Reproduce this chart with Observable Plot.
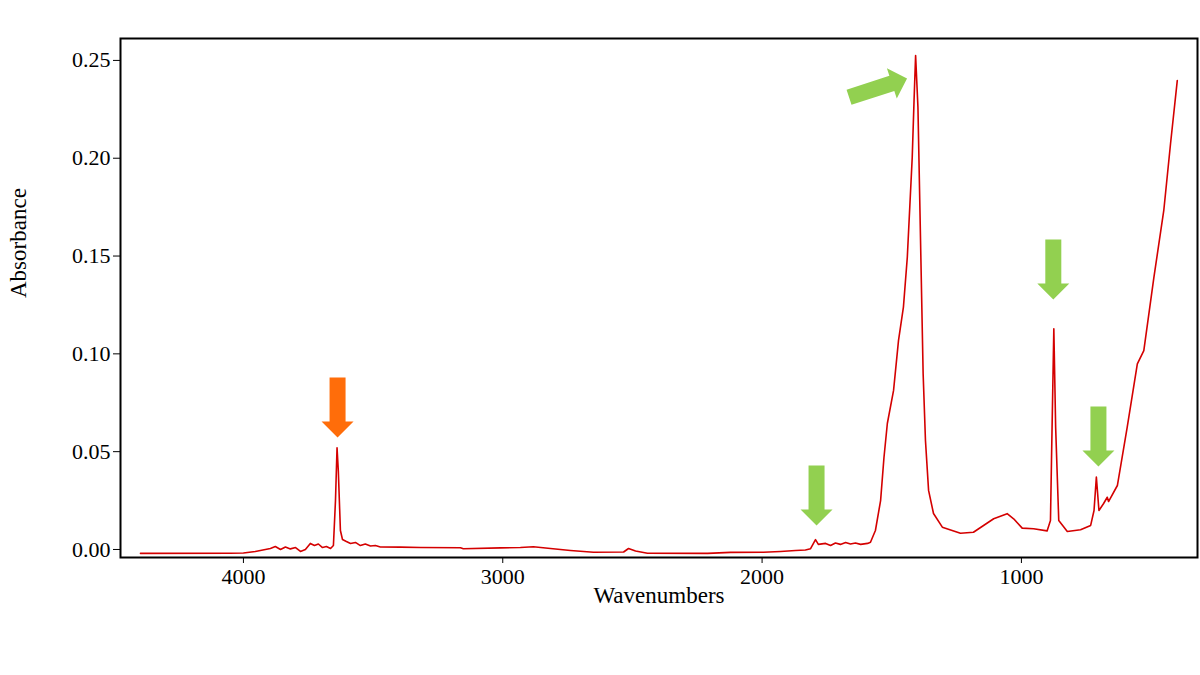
<!DOCTYPE html>
<html><head><meta charset="utf-8">
<script src="https://cdn.jsdelivr.net/npm/d3@7"></script>
<script src="https://cdn.jsdelivr.net/npm/@observablehq/plot@0.6"></script>
<style>
  html,body{margin:0;padding:0;background:#fff;}
  #chart svg{display:block;}
</style>
</head><body><div id="chart"></div>
<script>
// Spectrum (cm^-1, absorbance)
const wavenumber = [4397,4050,4000,3954,3896,3877,3857,3838,3819,3799,3780,3761,3742,3726,3711,3695,3680,3664,3653,3645,3639,3634,3626,3618,3603,3587,3568,3549,3530,3510,3491,3472,3395,3317,3163,3152,3009,2932,2882,2816,2739,2650,2534,2515,2488,2442,2210,2122,1995,1929,1871,1833,1813,1794,1783,1755,1736,1717,1698,1678,1659,1640,1620,1593,1582,1563,1543,1530,1517,1493,1474,1455,1440,1421,1414,1408,1399,1389,1379,1370,1358,1339,1305,1235,1185,1107,1055,1030,997,953,901,888,884,875,868,856,823,772,733,720,711,701,683,669,664,630,592,553,528,489,451,425,399];
const absorbance = [-0.0020,-0.0019,-0.0018,-0.0010,0.0005,0.0015,0.0000,0.0013,0.0003,0.0010,-0.0010,0.0000,0.0031,0.0020,0.0028,0.0010,0.0015,0.0005,0.0020,0.0250,0.0520,0.0400,0.0097,0.0051,0.0041,0.0031,0.0036,0.0020,0.0028,0.0018,0.0020,0.0013,0.0012,0.0010,0.0009,0.0004,0.0008,0.0010,0.0014,0.0005,-0.0005,-0.0014,-0.0013,0.0005,-0.0008,-0.0019,-0.0020,-0.0015,-0.0014,-0.0010,-0.0005,-0.0003,0.0004,0.0050,0.0026,0.0031,0.0020,0.0033,0.0026,0.0036,0.0028,0.0033,0.0026,0.0031,0.0037,0.0097,0.0250,0.0470,0.0644,0.0813,0.1068,0.1239,0.1494,0.2005,0.2295,0.2525,0.2261,0.1580,0.0900,0.0557,0.0302,0.0184,0.0114,0.0083,0.0088,0.0157,0.0183,0.0157,0.0109,0.0106,0.0095,0.0148,0.0455,0.1128,0.0625,0.0148,0.0092,0.0101,0.0123,0.0199,0.0370,0.0199,0.0235,0.0267,0.0245,0.0327,0.0625,0.0949,0.1017,0.1392,0.1733,0.2074,0.2397];

// Axis ticks
const xTicks = [4000, 3000, 2000, 1000];
const yTicks = [0, 0.05, 0.10, 0.15, 0.20, 0.25];

// Annotated bands: wavenumber of arrow tip, absorbance of arrow tip, group
const bandWave  = [3637, 1790, 877, 703];
const bandTip   = [0.0573, 0.0123, 0.1278, 0.0424];
const bandGroup = ["hydroxide", "carbonate", "carbonate", "carbonate"];
// Main carbonate band (slanted arrow)
const mainWave = [1441];
const mainTip  = [0.2408];

const spectrum = wavenumber.map((w, i) => ({w, a: absorbance[i]}));
const bands = bandWave.map((w, i) => ({w, a: bandTip[i], g: bandGroup[i]}));
const mains = mainWave.map((w, i) => ({w, a: mainTip[i], g: "carbonate"}));

// Block-arrow shape for Plot.vector (drawn pointing up, tip at (0,-l))
const blockArrow = {
  draw(context, l) {
    const sh = 8, hh = 16, hl = 16;
    context.moveTo(-sh, 0);
    context.lineTo(-sh, -(l - hl));
    context.lineTo(-hh, -(l - hl));
    context.lineTo(0, -l);
    context.lineTo(hh, -(l - hl));
    context.lineTo(sh, -(l - hl));
    context.lineTo(sh, 0);
    context.closePath();
  }
};

const colors = {hydroxide: "#ff6d0a", carbonate: "#92d050"};

const chart = Plot.plot({
  width: 1200,
  height: 675,
  marginLeft: 120,
  marginRight: 3,
  marginTop: 38,
  marginBottom: 118,
  style: {fontFamily: "'Liberation Serif', 'Times New Roman', serif", fontSize: "22px", color: "#000", background: "#fff", overflow: "visible"},
  x: {domain: [4474, 321]},
  y: {domain: [-0.0041, 0.2612]},
  marks: [
    Plot.axisX({ticks: xTicks, tickFormat: d3.format("d"), tickSize: 6, tickPadding: 5, label: null, fontSize: 22}),
    Plot.axisY({ticks: yTicks, tickFormat: d3.format(".2f"), tickSize: 7, tickPadding: 3, label: null, fontSize: 22}),
    Plot.line(spectrum, {x: "w", y: "a", stroke: "#d40000", strokeWidth: 1.6, strokeLinejoin: "round"}),
    Plot.vector(bands, {x: "w", y: "a", length: 60, rotate: 180, anchor: "end", shape: blockArrow,
      fill: d => colors[d.g], stroke: "none"}),
    Plot.vector(mains, {x: "w", y: "a", length: 61, rotate: 72, anchor: "end", shape: blockArrow,
      fill: d => colors[d.g], stroke: "none"}),
    Plot.frame({stroke: "#000", strokeWidth: 2}),
    Plot.text(["Wavenumbers"], {frameAnchor: "bottom", dy: 45, fontSize: 23, fill: "#000"}),
    Plot.text(["Absorbance"], {frameAnchor: "left", dx: -102, rotate: -90, fontSize: 23, fill: "#000"})
  ]
});
document.getElementById("chart").appendChild(chart);
</script>
</body></html>
